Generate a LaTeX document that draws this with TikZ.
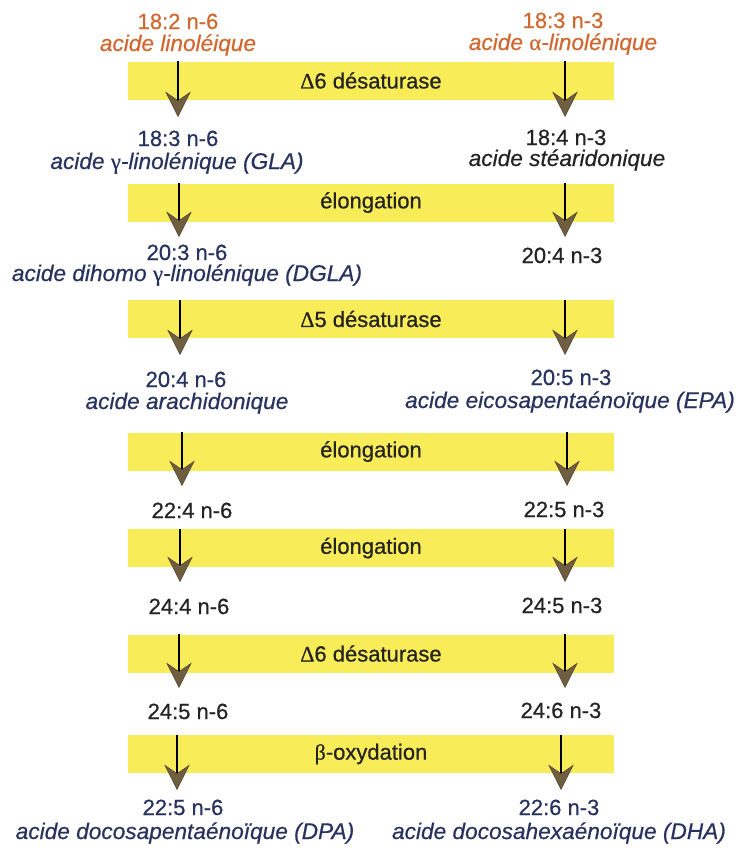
\documentclass[tikz,border=0pt]{standalone}
\usepackage{fontspec}
\setmainfont{Liberation Sans}[FakeBold=0.6]
\newfontfamily\grk{Liberation Serif}[FakeBold=0.6]
\usetikzlibrary{arrows.meta}
\definecolor{bandyellow}{RGB}{248,236,88}
\definecolor{orangetxt}{RGB}{208,104,48}
\definecolor{navytxt}{RGB}{40,50,95}
\definecolor{darktxt}{RGB}{35,35,35}
\definecolor{tipfill}{RGB}{112,94,64}
\definecolor{tipdraw}{RGB}{80,66,45}
\begin{document}
\begin{tikzpicture}[x=0.75pt,y=-0.75pt,
  every node/.style={inner sep=0pt},
  num/.style={anchor=base, font=\fontsize{16.5}{19}\selectfont},
  nm/.style={anchor=base, font=\fontsize{17}{19}\selectfont\itshape},
  band/.style={fill=bandyellow, minimum width=364.5pt, minimum height=28.5pt,
    text=darktxt, font=\fontsize{16.5}{19}\selectfont},
  flow/.style={line width=0.8pt, draw=black,
    -{Stealth[length=19pt,width=19pt,inset=6.5pt,fill=tipfill,color=tipdraw,line width=0.4pt]}}
]
\useasboundingbox (0,0) rectangle (738,850);

% bands
\node[band] (b1) at (371,80.5) {{\grk Δ}6 désaturase};
\node[band] (b2) at (371,202.5) {élongation};
\node[band] (b3) at (371,319) {{\grk Δ}5 désaturase};
\node[band] (b4) at (371,451.5) {élongation};
\node[band] (b5) at (371,548) {élongation};
\node[band] (b6) at (371,653.5) {{\grk Δ}6 désaturase};
\node[band] (b7) at (371,754) {{\grk β}-oxydation};

% row 0
\node[num,text=orangetxt] (l0) at (178,29) {18:2 n-6};
\node[nm,text=orangetxt] (l0n) at (178,51) {acide linoléique};
\node[num,text=orangetxt] (r0) at (563,28) {18:3 n-3};
\node[nm,text=orangetxt] (r0n) at (563,50) {acide {\grk\upshape α}-linolénique};
% row 1
\node[num,text=navytxt] (l1) at (178,146) {18:3 n-6};
\node[nm,text=navytxt] (l1n) at (177,169) {acide {\grk\upshape γ}-linolénique (GLA)};
\node[num,text=darktxt] (r1) at (566,145) {18:4 n-3};
\node[nm,text=darktxt] (r1n) at (567,166) {acide stéaridonique};
% row 2
\node[num,text=navytxt] (l2) at (187,260) {20:3 n-6};
\node[nm,text=navytxt] (l2n) at (187,281) {acide dihomo {\grk\upshape γ}-linolénique (DGLA)};
\node[num,text=darktxt] (r2) at (562,263) {20:4 n-3};
% row 3
\node[num,text=navytxt] (l3) at (186,387) {20:4 n-6};
\node[nm,text=navytxt] (l3n) at (187,409) {acide arachidonique};
\node[num,text=navytxt] (r3) at (571,385) {20:5 n-3};
\node[nm,text=navytxt] (r3n) at (570,408) {acide eicosapentaénoïque (EPA)};
% row 4
\node[num,text=darktxt] (l4) at (192,518) {22:4 n-6};
\node[num,text=darktxt] (r4) at (564,517) {22:5 n-3};
% row 5
\node[num,text=darktxt] (l5) at (189,614) {24:4 n-6};
\node[num,text=darktxt] (r5) at (562,613) {24:5 n-3};
% row 6
\node[num,text=darktxt] (l6) at (188,719) {24:5 n-6};
\node[num,text=darktxt] (r6) at (561,718) {24:6 n-3};
% row 7
\node[num,text=navytxt] (l7) at (183,815) {22:5 n-6};
\node[nm,text=navytxt] (l7n) at (185,839) {acide docosapentaénoïque (DPA)};
\node[num,text=navytxt] (r7) at (559,815) {22:6 n-3};
\node[nm,text=navytxt] (r7n) at (559,839) {acide docosahexaénoïque (DHA)};

% arrow tips
\coordinate (tl1) at (178,117); \coordinate (tr1) at (565,117);
\coordinate (tl2) at (179,237); \coordinate (tr2) at (565,237);
\coordinate (tl3) at (180,355); \coordinate (tr3) at (565,355);
\coordinate (tl4) at (182,486); \coordinate (tr4) at (567,486);
\coordinate (tl5) at (180,582); \coordinate (tr5) at (565,582);
\coordinate (tl6) at (179,688); \coordinate (tr6) at (565,688);
\coordinate (tl7) at (177,790); \coordinate (tr7) at (561,790);

\foreach \k in {1,...,7}{
  \draw[flow] (b\k.north -| tl\k) -- (tl\k);
  \draw[flow] (b\k.north -| tr\k) -- (tr\k);
}
\end{tikzpicture}
\end{document}
